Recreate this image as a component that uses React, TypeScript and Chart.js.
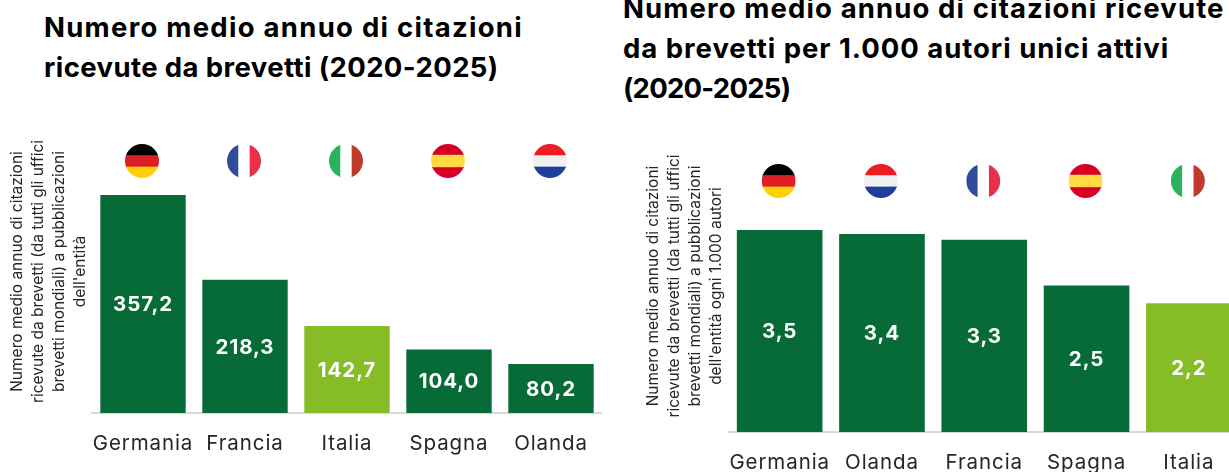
import React, { useEffect, useRef } from "react";
import { Chart, registerables } from "chart.js";

Chart.register(...registerables);

const DARK_GREEN = "#076B38";
const LIGHT_GREEN = "#86BC25";
const AXIS_GREY = "#D9D9D9";
const INK = "#262626";
const BODY_FONT = "Inter";

const leftTitle = ["Numero medio annuo di citazioni", "ricevute da brevetti (2020-2025)"];
const leftTitleSpacing = [1.27, 0.4];
const leftCategories = ["Germania", "Francia", "Italia", "Spagna", "Olanda"];
const leftValues = [357.2, 218.3, 142.7, 104.0, 80.2];
const leftAxisTitle = [
  "Numero medio annuo di citazioni",
  "ricevute da brevetti (da tutti gli uffici",
  "brevetti mondiali) a pubblicazioni",
  "dell'entità",
];

const rightTitle = [
  "Numero medio annuo di citazioni ricevute",
  "da brevetti per 1.000 autori unici attivi",
  "(2020-2025)",
];
const rightTitleSpacing = [1.12, 0.97, -0.75];
const rightCategories = ["Germania", "Olanda", "Francia", "Spagna", "Italia"];
const rightValues = [3.5, 3.43, 3.33, 2.54, 2.23];
const rightAxisTitle = [
  "Numero medio annuo di citazioni",
  "ricevute da brevetti (da tutti gli uffici",
  "brevetti mondiali) a pubblicazioni",
  "dell'entità ogni 1.000 autori",
];

type Flag = { dir: "h" | "v"; bands: [string, number][] };
const flags: Record<string, Flag> = {
  Germania: { dir: "h", bands: [["#000000", 1], ["#DC1F26", 1], ["#FFCF0A", 1]] },
  Francia: { dir: "v", bands: [["#2F4B9B", 1], ["#FFFFFF", 1], ["#E8304A", 1]] },
  Italia: { dir: "v", bands: [["#2BB25F", 1], ["#FFFFFF", 1], ["#C0392B", 1]] },
  Spagna: { dir: "h", bands: [["#D80027", 1], ["#FFDA44", 1.15], ["#D80027", 1]] },
  Olanda: { dir: "h", bands: [["#ED1C24", 1], ["#F0F0F0", 1], ["#1F3F9A", 1]] },
};

function decorations(flagLevel: number) {
  return {
    id: "decorations",
    beforeDraw(chart: any) {
      chart.ctx.letterSpacing = "0px";
    },
    afterDatasetsDraw(chart: any) {
      const { ctx } = chart;
      ctx.letterSpacing = "0.9px";
      const meta = chart.getDatasetMeta(0);
      const y = chart.scales.y;
      const labels: string[] = chart.data.labels;
      meta.data.forEach((bar: any, i: number) => {
        const value = chart.data.datasets[0].data[i];
        ctx.save();
        ctx.fillStyle = "#FFFFFF";
        ctx.font = `700 20.5px ${BODY_FONT}`;
        ctx.textAlign = "center";
        ctx.textBaseline = "middle";
        ctx.fillText(value.toFixed(1).replace(".", ","), bar.x, (bar.y + bar.base) / 2 + 1);
        ctx.restore();

        const f = flags[labels[i]];
        const r = 17;
        const cy = y.getPixelForValue(flagLevel);
        const total = f.bands.reduce((s, b) => s + b[1], 0);
        ctx.save();
        ctx.beginPath();
        ctx.arc(bar.x - 1, cy, r, 0, Math.PI * 2);
        ctx.clip();
        let pos = -r;
        f.bands.forEach(([color, w]) => {
          const size = (w / total) * 2 * r;
          ctx.fillStyle = color;
          if (f.dir === "h") ctx.fillRect(bar.x - 1 - r, cy + pos, 2 * r, size + 0.5);
          else ctx.fillRect(bar.x - 1 + pos, cy - r, size + 0.5, 2 * r);
          pos += size;
        });
        ctx.restore();
      });
    },
  };
}

function BarPanel(props: {
  categories: string[];
  values: number[];
  axisTitle: string[];
  yMax: number;
  flagLevel: number;
  left: number;
  top: number;
  width: number;
  height: number;
  axisWidth: number;
  axisPad: number;
  xHeight: number;
}) {
  const ref = useRef<HTMLCanvasElement>(null);
  useEffect(() => {
    const chart = new Chart(ref.current as HTMLCanvasElement, {
      type: "bar",
      data: {
        labels: props.categories,
        datasets: [
          {
            data: props.values,
            backgroundColor: props.categories.map((c) => (c === "Italia" ? LIGHT_GREEN : DARK_GREEN)),
            barPercentage: 0.837,
            categoryPercentage: 1,
          },
        ],
      },
      options: {
        animation: false,
        responsive: false,
        layout: { padding: 0 },
        plugins: {
          legend: { display: false },
          tooltip: { enabled: false },
          title: { display: false },
        },
        scales: {
          x: {
            grid: { display: false },
            border: { display: true, color: AXIS_GREY, width: 2 },
            ticks: {
              z: 1,
              color: INK,
              padding: 11,
              maxRotation: 0,
              autoSkip: false,
              font: { family: BODY_FONT, size: 20.5 },
            },
            afterFit: (s: any) => {
              s.height = props.xHeight;
            },
          },
          y: {
            min: 0,
            max: props.yMax,
            grid: { display: false },
            border: { display: false },
            ticks: { display: false },
            title: {
              display: true,
              text: props.axisTitle,
              color: INK,
              font: { family: BODY_FONT, size: 15.5, lineHeight: 21 / 15.5 },
              padding: { top: props.axisPad, bottom: 0 },
            },
            afterFit: (s: any) => {
              s.width = props.axisWidth;
            },
          },
        },
      } as any,
      plugins: [decorations(props.flagLevel)],
    });
    return () => chart.destroy();
  }, []);
  return (
    <canvas
      ref={ref}
      width={props.width}
      height={props.height}
      style={{ position: "absolute", left: props.left, top: props.top, width: props.width, height: props.height }}
    />
  );
}

function TitleBlock(props: { lines: string[]; spacing: number[]; left: number; top: number; lineHeight: number }) {
  return (
    <div
      style={{
        position: "absolute",
        left: props.left,
        top: props.top,
        whiteSpace: "nowrap",
        fontFamily: "Inter",
        fontWeight: 700,
        fontSize: 27.5,
        lineHeight: `${props.lineHeight}px`,
        color: "#000",
      }}
    >
      {props.lines.map((l, i) => (
        <div key={l} style={{ letterSpacing: `${props.spacing[i]}px` }}>
          {l}
        </div>
      ))}
    </div>
  );
}

export default function App() {
  return (
    <div style={{ position: "fixed", left: 0, top: 0, width: 1229, height: 472, overflow: "hidden", background: "#fff" }}>
      <TitleBlock lines={leftTitle} spacing={leftTitleSpacing} left={44} top={8} lineHeight={39.5} />
      <TitleBlock lines={rightTitle} spacing={rightTitleSpacing} left={623} top={-12} lineHeight={40} />
      <BarPanel
        categories={leftCategories}
        values={leftValues}
        axisTitle={leftAxisTitle}
        yMax={463.7}
        flagLevel={412.9}
        left={0}
        top={130}
        width={602}
        height={342}
        axisWidth={92}
        axisPad={6.5}
        xHeight={59}
      />
      <BarPanel
        categories={rightCategories}
        values={rightValues}
        axisTitle={rightAxisTitle}
        yMax={5.06}
        flagLevel={4.35}
        left={612}
        top={140}
        width={628}
        height={332}
        axisWidth={116.5}
        axisPad={30.5}
        xHeight={40}
      />
    </div>
  );
}
